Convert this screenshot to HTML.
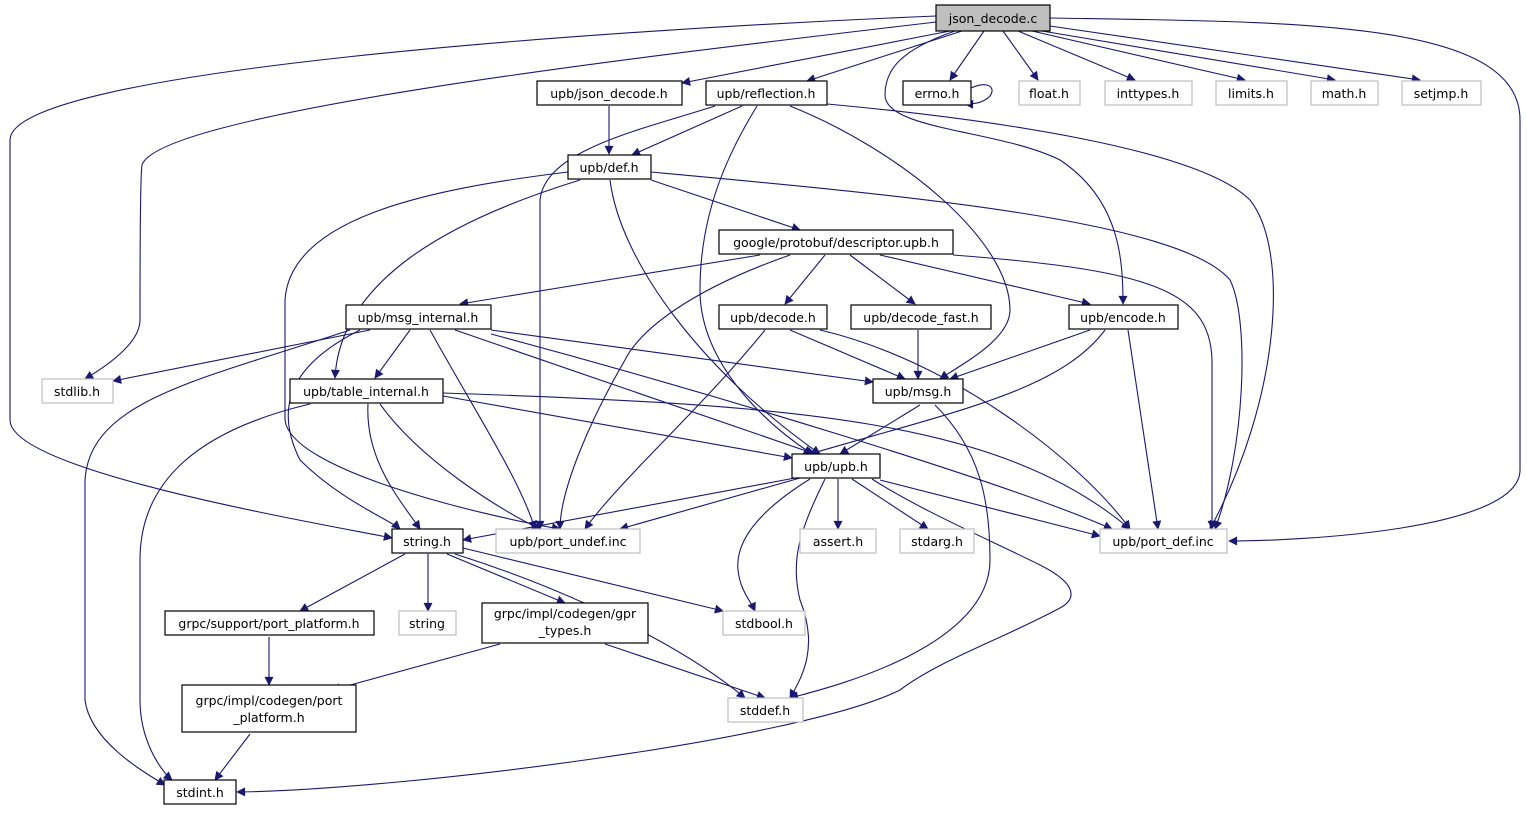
<!DOCTYPE html>
<html><head><meta charset="utf-8"><style>
html,body{margin:0;padding:0;background:#fff;}
svg{display:block;}
text{font-family:"DejaVu Sans","Liberation Sans",sans-serif;font-size:12.5px;fill:#000;text-anchor:middle;}
.n{fill:#fff;stroke:#000;stroke-width:1.2;}
.g{fill:#fff;stroke:#bfbfbf;stroke-width:1.2;}
.e{fill:none;stroke:#191970;stroke-width:1.1;marker-end:url(#a);}
</style></head><body>
<svg width="1527" height="813" viewBox="0 0 1527 813" xmlns="http://www.w3.org/2000/svg">
<defs><marker id="a" viewBox="0 0 10 10" refX="9" refY="5" markerWidth="12" markerHeight="9" orient="auto" markerUnits="userSpaceOnUse"><path d="M0,0 L10,5 L0,10 z" fill="#191970"/></marker></defs>

<path class="e" d="M950,31 L682,83"/>
<path class="e" d="M962,31 L807,81"/>
<path class="e" d="M984,31 L950,80"/>
<path class="e" d="M1003,31 L1038,80"/>
<path class="e" d="M1018,31 L1135,80"/>
<path class="e" d="M1032,31 L1245,80"/>
<path class="e" d="M1042,31 L1335,80"/>
<path class="e" d="M1050,26 L1420,80"/>
<path class="e" d="M1050,18 C1300,22 1520,20 1520,120 L1520,470 C1520,530 1300,541 1229,541"/>
<path class="e" d="M936,22 C700,50 160,110 142,165 C140,175 140,300 140,320 C140,345 100,370 85,379"/>
<path class="e" d="M936,16 C600,30 10,70 10,140 L10,420 C10,470 300,520 392,538"/>
<path class="e" d="M955,31 C900,50 885,70 885,95 C885,130 1000,130 1060,160 C1120,200 1123,260 1123,304"/>
<path class="e" d="M971,88 C1000,75 1000,105 965,104"/>
<path class="e" d="M609,106 L609,154"/>
<path class="e" d="M742,106 L632,155"/>
<path class="e" d="M715,106 C640,130 545,150 540,200 L540,529"/>
<path class="e" d="M757,106 C730,150 700,210 700,290 C700,360 760,420 812,454"/>
<path class="e" d="M790,106 C900,150 1010,240 1010,310 C1010,340 960,365 940,379"/>
<path class="e" d="M827,104 C1000,120 1200,150 1250,200 C1290,250 1280,400 1210,529"/>
<path class="e" d="M651,180 L800,230"/>
<path class="e" d="M580,180 C450,220 340,280 335,378"/>
<path class="e" d="M568,172 C420,190 290,220 285,300 L285,420 C290,470 480,515 560,529"/>
<path class="e" d="M610,180 C620,260 700,370 820,454"/>
<path class="e" d="M651,172 C900,195 1180,220 1230,280 C1250,320 1245,450 1215,529"/>
<path class="e" d="M760,255 L460,304"/>
<path class="e" d="M825,255 L785,304"/>
<path class="e" d="M850,255 L915,304"/>
<path class="e" d="M880,255 L1090,304"/>
<path class="e" d="M790,255 C690,290 640,330 625,360 C590,420 560,490 560,529"/>
<path class="e" d="M953,255 C1150,270 1210,290 1212,360 L1212,529"/>
<path class="e" d="M370,330 L113,381"/>
<path class="e" d="M410,330 L375,378"/>
<path class="e" d="M491,330 L873,382"/>
<path class="e" d="M455,330 L815,454"/>
<path class="e" d="M430,330 C480,420 520,480 535,529"/>
<path class="e" d="M491,334 C700,390 1000,480 1112,529"/>
<path class="e" d="M360,330 C300,360 270,400 300,460 C340,500 390,520 400,529"/>
<path class="e" d="M350,330 C200,380 90,400 85,480 L85,700 C90,740 140,770 165,785"/>
<path class="e" d="M790,330 L905,379"/>
<path class="e" d="M765,330 C700,410 620,480 585,529"/>
<path class="e" d="M820,330 C950,360 1080,460 1130,529"/>
<path class="e" d="M918,330 L918,379"/>
<path class="e" d="M1090,330 L950,379"/>
<path class="e" d="M1105,330 C1060,390 960,410 810,454"/>
<path class="e" d="M1128,330 L1158,529"/>
<path class="e" d="M443,396 L792,458"/>
<path class="e" d="M368,404 C365,460 400,500 420,529"/>
<path class="e" d="M380,404 C420,460 500,510 540,529"/>
<path class="e" d="M310,404 C200,430 140,480 140,560 L140,700 C140,740 160,770 172,780"/>
<path class="e" d="M443,393 C800,405 1000,420 1130,529"/>
<path class="e" d="M920,405 L840,454"/>
<path class="e" d="M935,405 C980,450 990,500 990,560 C990,650 820,690 790,698"/>
<path class="e" d="M795,478 L463,540"/>
<path class="e" d="M800,478 L620,529"/>
<path class="e" d="M838,479 L838,529"/>
<path class="e" d="M852,479 L928,529"/>
<path class="e" d="M880,480 L1100,536"/>
<path class="e" d="M810,479 C760,510 735,540 738,570 C740,590 750,600 755,611"/>
<path class="e" d="M825,479 C800,530 790,560 800,600 C820,650 800,680 790,698"/>
<path class="e" d="M872,479 C920,510 990,540 1040,565 C1080,585 1075,600 1060,608 C1000,640 940,660 900,690 C800,740 400,790 237,792"/>
<path class="e" d="M405,554 L300,611"/>
<path class="e" d="M428,554 L428,611"/>
<path class="e" d="M447,554 L565,603"/>
<path class="e" d="M463,548 L723,611"/>
<path class="e" d="M455,554 C600,600 700,660 745,698"/>
<path class="e" d="M269,637 L269,685"/>
<path class="e" d="M500,644 L332,690"/>
<path class="e" d="M605,644 L765,698"/>
<path class="e" d="M250,734 L215,780"/>

<rect x="936" y="5" width="114" height="26" fill="#bfbfbf" stroke="#000" stroke-width="1.2"/><text x="993" y="23">json_decode.c</text>
<rect class="n" x="537" y="81" width="145" height="24"/><text x="609" y="98">upb/json_decode.h</text>
<rect class="n" x="706" y="81" width="121" height="24"/><text x="766" y="98">upb/reflection.h</text>
<rect class="n" x="903" y="81" width="68" height="24"/><text x="937" y="98">errno.h</text>
<rect class="g" x="1019" y="81" width="61" height="24"/><text x="1049" y="98">float.h</text>
<rect class="g" x="1105" y="81" width="87" height="24"/><text x="1148" y="98">inttypes.h</text>
<rect class="g" x="1216" y="81" width="71" height="24"/><text x="1251" y="98">limits.h</text>
<rect class="g" x="1311" y="81" width="67" height="24"/><text x="1344" y="98">math.h</text>
<rect class="g" x="1402" y="81" width="79" height="24"/><text x="1441" y="98">setjmp.h</text>
<rect class="n" x="568" y="155" width="83" height="24"/><text x="609" y="172">upb/def.h</text>
<rect class="n" x="719" y="230" width="234" height="24"/><text x="836" y="247">google/protobuf/descriptor.upb.h</text>
<rect class="n" x="346" y="305" width="145" height="24"/><text x="418" y="322">upb/msg_internal.h</text>
<rect class="n" x="719" y="305" width="108" height="24"/><text x="773" y="322">upb/decode.h</text>
<rect class="n" x="851" y="305" width="140" height="24"/><text x="921" y="322">upb/decode_fast.h</text>
<rect class="n" x="1069" y="305" width="109" height="24"/><text x="1123" y="322">upb/encode.h</text>
<rect class="g" x="42" y="379" width="71" height="24"/><text x="77" y="396">stdlib.h</text>
<rect class="n" x="290" y="379" width="153" height="24"/><text x="366" y="396">upb/table_internal.h</text>
<rect class="n" x="873" y="379" width="90" height="24"/><text x="918" y="396">upb/msg.h</text>
<rect class="n" x="792" y="454" width="88" height="24"/><text x="836" y="471">upb/upb.h</text>
<rect class="n" x="392" y="529" width="71" height="24"/><text x="427" y="546">string.h</text>
<rect class="g" x="496" y="529" width="144" height="24"/><text x="568" y="546">upb/port_undef.inc</text>
<rect class="g" x="800" y="529" width="76" height="24"/><text x="838" y="546">assert.h</text>
<rect class="g" x="900" y="529" width="74" height="24"/><text x="937" y="546">stdarg.h</text>
<rect class="g" x="1100" y="529" width="127" height="24"/><text x="1163" y="546">upb/port_def.inc</text>
<rect class="n" x="165" y="611" width="209" height="24"/><text x="269" y="628">grpc/support/port_platform.h</text>
<rect class="g" x="399" y="611" width="57" height="24"/><text x="427" y="628">string</text>
<rect class="n" x="482" y="603" width="166" height="40"/><text x="565" y="618">grpc/impl/codegen/gpr</text><text x="565" y="635">_types.h</text>
<rect class="g" x="723" y="611" width="82" height="24"/><text x="764" y="628">stdbool.h</text>
<rect class="n" x="182" y="685" width="174" height="47"/><text x="269" y="705">grpc/impl/codegen/port</text><text x="269" y="722">_platform.h</text>
<rect class="g" x="728" y="698" width="75" height="24"/><text x="765" y="715">stddef.h</text>
<rect class="n" x="164" y="780" width="72" height="24"/><text x="200" y="797">stdint.h</text>
</svg>
</body></html>
